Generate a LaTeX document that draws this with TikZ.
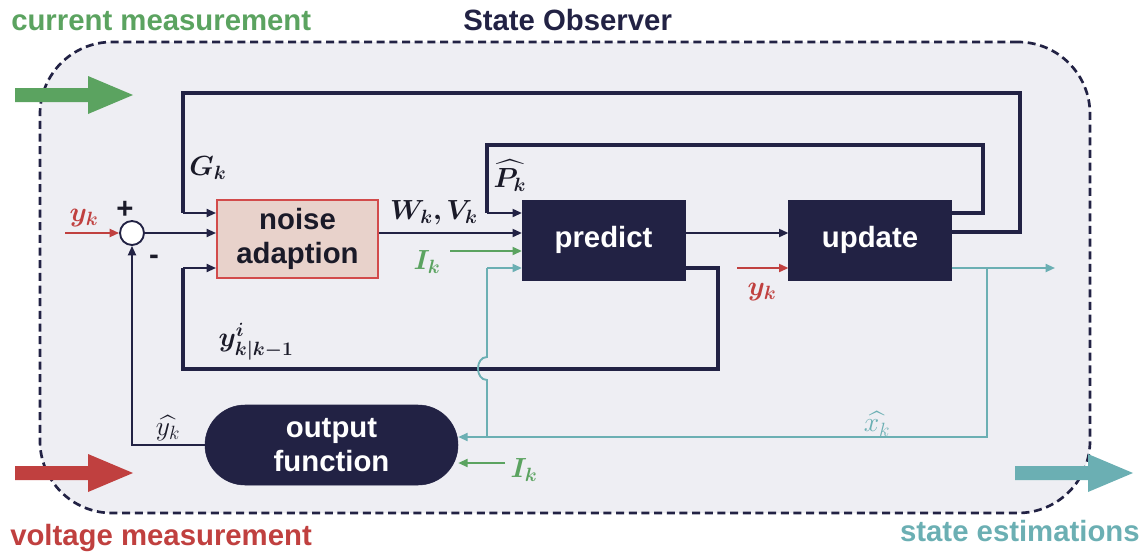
\documentclass[tikz,border=0pt]{standalone}
\usepackage{amsmath,bm}
\usepackage{fontspec}
\setmainfont{Liberation Sans}
\usetikzlibrary{arrows.meta}
\definecolor{navy}{HTML}{222244}
\definecolor{grn}{HTML}{5BA360}
\definecolor{rd}{HTML}{C0403F}
\definecolor{tl}{HTML}{6BAFB3}
\definecolor{bgc}{HTML}{EEEEF3}
\definecolor{noisefill}{HTML}{E8D2CB}
\definecolor{noisedraw}{HTML}{D24B4B}
\definecolor{ink}{HTML}{1A1A28}
\begin{document}
\begin{tikzpicture}[x=0.75pt,y=-0.75pt,
  big/.style={font=\fontsize{22}{26}\selectfont\bfseries},
  lab/.style={font=\fontsize{20.74}{24}\selectfont, text=ink, inner sep=0pt},
  blk/.style={draw=navy, fill=navy, text=white, big, minimum width=122pt, minimum height=60pt, inner sep=0pt},
  thk/.style={draw=navy, line width=2.8pt},
  thn/.style={draw=navy, line width=1.4pt},
  tln/.style={draw=tl, line width=1.4pt},
  arr/.style={-{Triangle[length=7pt,width=6pt]}},
]
\useasboundingbox (0,0) rectangle (1146,553);

% observer frame
\node[draw=navy, fill=bgc, line width=2pt, dash pattern=on 6pt off 3.5pt,
      rounded corners=54pt, minimum width=787.5pt, minimum height=353.25pt] (obs) at (565,277.5) {};

% titles
\node[big, text=navy, anchor=base west, inner sep=0pt] (title) at (463,31) {State Observer};
\node[big, text=grn, anchor=base west, inner sep=0pt] (cur) at (11,30) {current measurement};
\node[big, text=rd, anchor=base west, inner sep=0pt] (volt) at (10,545) {voltage measurement};
\node[big, text=tl, anchor=base east, inner sep=0pt] (est) at (1140,541) {state estimations};

% big arrows
\fill[grn] (15,88) -- (88,88) -- (88,76) -- (133,95) -- (88,114) -- (88,102) -- (15,102) -- cycle;
\fill[rd] (15,466) -- (88,466) -- (88,454) -- (133,473) -- (88,492) -- (88,480) -- (15,480) -- cycle;
\fill[tl] (1015,466) -- (1088,466) -- (1088,454) -- (1133,473) -- (1088,492) -- (1088,480) -- (1015,480) -- cycle;

% blocks
\node[draw=noisedraw, fill=noisefill, line width=1.5pt, big, text=ink, align=center,
      minimum width=120.75pt, minimum height=58.5pt, inner sep=0pt] (noise) at (297.5,239) {noise\\adaption};
\node[blk] (predict) at (603.5,240) {predict};
\node[blk] (update) at (870,240) {update};
\node[blk, rounded corners=30pt, minimum width=189.75pt, align=center] (outfn) at (331.5,445) {output\\function};
\node[circle, draw=navy, fill=white, line width=1.4pt, minimum size=18pt, inner sep=0pt] (sum) at (132,233) {};

% coordinates
\coordinate (gA) at (1020,232); \coordinate (gB) at (1020,93);
\coordinate (gC) at (183,93);   \coordinate (gD) at (183,213);
\coordinate (pA) at (983,213);  \coordinate (pB) at (983,145);
\coordinate (pC) at (487,145);  \coordinate (pD) at (487,213);
\coordinate (yA) at (718,268);  \coordinate (yB) at (718,369);
\coordinate (yC) at (183,369);  \coordinate (yD) at (183,268);
\coordinate (tOut) at (1055,268); \coordinate (tA) at (987,268);
\coordinate (tB) at (987,437);  \coordinate (tC) at (487,437);
\coordinate (tD) at (487,268);
\coordinate (j1) at (487,380);  \coordinate (j2) at (487,357);
\coordinate (hA) at (132,445);
\coordinate (iA) at (450,251);  \coordinate (iB) at (505,463);
\coordinate (ykA) at (65,233);  \coordinate (ykB) at (737,268);
\coordinate (wA) at (0,233);

% G_k loop
\draw[thk] (update.east |- gA) -- (gA) -- (gB) -- (gC) -- (gD);
\draw[thn, arr] (gD) -- (noise.west |- gD);
% P_k loop
\draw[thk] (update.east |- pA) -- (pA) -- (pB) -- (pC) -- (pD);
\draw[thn, arr] (pD) -- (predict.west |- pD);
% y^i loop
\draw[thk] (predict.east |- yA) -- (yA) -- (yB) -- (yC) -- (yD);
\draw[thn, arr] (yD) -- (noise.west |- yD);
% sum -> noise
\draw[thn, arr] (sum.east) -- (noise.west |- sum.east);
% noise -> predict
\draw[thn, arr] (noise.east |- wA) -- (predict.west |- wA);
% predict -> update
\draw[thn, arr] (predict.east |- wA) -- (update.west |- wA);
% y hat feedback
\draw[thn, arr] (outfn.west) -- (hA) -- (sum.south);
% red y_k
\draw[rd, line width=1.4pt, arr] (ykA) -- (sum.west);
\draw[rd, line width=1.4pt, arr] (ykB) -- (update.west |- ykB);
% green I_k
\draw[grn, line width=1.4pt, arr] (iA) -- (predict.west |- iA);
\draw[grn, line width=1.4pt, arr] (iB) -- (outfn.east |- iB);
% teal
\draw[tln, arr] (update.east |- tA) -- (tOut);
\draw[tln, arr] (tA) -- (tB) -- (outfn.east |- tB);
\draw[tln] (tC) -- (j1) .. controls (475,380) and (475,357) .. (j2) -- (tD);
\draw[tln, arr] (tD) -- (predict.west |- tD);

% labels
\node[lab] (gk) at (208,168) {$\bm{G_k}$};
\node[lab] (wv) at (434,213) {$\bm{W_k,V_k}$};
\node[lab] (pk) at (510,176) {$\bm{\widehat{P_k}}$};
\node[lab, text=grn] (ik1) at (427,262) {$\bm{I_k}$};
\node[lab, text=grn] (ik2) at (524,470) {$\bm{I_k}$};
\node[lab, text=rd] (yk1) at (84,218) {$\bm{y_k}$};
\node[lab, text=rd] (yk2) at (762,292) {$\bm{y_k}$};
\node[big, text=ink, inner sep=0pt] (plus) at (125,210) {+};
\node[big, text=ink, inner sep=0pt] (minus) at (154,260) {-};
\node[lab] (yi) at (256,342) {$\bm{y^i_{k|k-1}}$};
\node[lab] (yhat) at (168,428) {$\widehat{y_k}$};
\node[lab, text=tl] (xhat) at (877,424) {$\widehat{x_k}$};
\end{tikzpicture}
\end{document}
